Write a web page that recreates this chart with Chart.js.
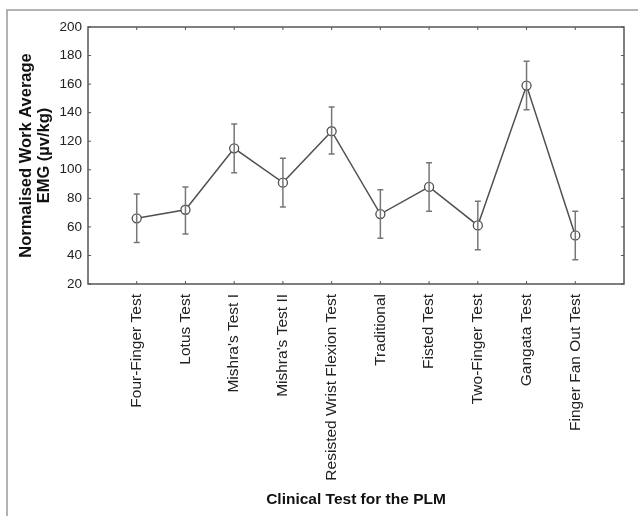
<!DOCTYPE html>
<html>
<head>
<title>Normalised Work Average EMG</title>
<script src="https://cdn.jsdelivr.net/npm/chart.js@4/dist/chart.umd.min.js"></script>
<style>
html, body { margin: 0; padding: 0; background: #fff; }
#wrap { width: 638px; height: 516px; }
</style>
</head>
<body>
<div id="wrap"><canvas id="c" width="638" height="516"></canvas></div>
<script>
var tests = ["Four-Finger Test", "Lotus Test", "Mishra's Test I", "Mishra's Test II",
  "Resisted Wrist Flexion Test", "Traditional", "Fisted Test", "Two-Finger Test",
  "Gangata Test", "Finger Fan Out Test"];
var meanEmg = [66, 72, 115, 91, 127, 69, 88, 61, 159, 54];
var upperEmg = [83, 88, 132, 108, 144, 86, 105, 78, 176, 71];
var lowerEmg = [49, 55, 98, 74, 111, 52, 71, 44, 142, 37];
var yTicks = [20, 40, 60, 80, 100, 120, 140, 160, 180, 200];

var points = meanEmg.map(function (v, i) { return { x: i + 1, y: v }; });

// frame, inward ticks and error bars
var extras = {
  id: 'extras',
  beforeDraw: function (chart) {
    var ctx = chart.ctx;
    ctx.save();
    ctx.strokeStyle = '#9a9a9a';
    ctx.lineWidth = 1.5;
    ctx.beginPath();
    ctx.moveTo(7, 516);
    ctx.lineTo(7, 10);
    ctx.lineTo(638, 10);
    ctx.stroke();
    ctx.restore();
  },
  afterDatasetsDraw: function (chart) {
    var ctx = chart.ctx;
    var xs = chart.scales.x, ys = chart.scales.y;
    ctx.save();
    ctx.strokeStyle = '#777';
    ctx.lineWidth = 1.5;
    for (var i = 0; i < meanEmg.length; i++) {
      var px = xs.getPixelForValue(i + 1);
      var top = ys.getPixelForValue(upperEmg[i]);
      var bot = ys.getPixelForValue(lowerEmg[i]);
      ctx.beginPath();
      ctx.moveTo(px, top); ctx.lineTo(px, bot);
      ctx.moveTo(px - 3, top); ctx.lineTo(px + 3, top);
      ctx.moveTo(px - 3, bot); ctx.lineTo(px + 3, bot);
      ctx.stroke();
    }
    ctx.restore();
  },
  afterDraw: function (chart) {
    var ctx = chart.ctx, a = chart.chartArea;
    var xs = chart.scales.x, ys = chart.scales.y;
    ctx.save();
    ctx.strokeStyle = '#555';
    ctx.lineWidth = 1.5;
    ctx.strokeRect(a.left, a.top, a.right - a.left, a.bottom - a.top);
    ctx.lineWidth = 1;
    ctx.beginPath();
    yTicks.forEach(function (t) {
      var py = ys.getPixelForValue(t);
      ctx.moveTo(a.left, py); ctx.lineTo(a.left + 3, py);
      ctx.moveTo(a.right, py); ctx.lineTo(a.right - 3, py);
    });
    tests.forEach(function (_, i) {
      var px = xs.getPixelForValue(i + 1);
      ctx.moveTo(px, a.top); ctx.lineTo(px, a.top + 3);
      ctx.moveTo(px, a.bottom); ctx.lineTo(px, a.bottom - 3);
    });
    ctx.stroke();
    ctx.restore();
  }
};

new Chart(document.getElementById('c'), {
  type: 'line',
  data: {
    datasets: [{
      data: points,
      borderColor: '#505050',
      borderWidth: 1.5,
      pointRadius: 4.5,
      pointBackgroundColor: '#fff',
      pointBorderColor: '#505050',
      pointBorderWidth: 1.3,
      tension: 0
    }]
  },
  options: {
    responsive: false,
    animation: false,
    layout: { padding: { top: 27, right: 14, left: 0, bottom: 0 } },
    plugins: { legend: { display: false }, tooltip: { enabled: false } },
    scales: {
      x: {
        type: 'linear',
        min: 0,
        max: 11,
        afterBuildTicks: function (s) {
          s.ticks = tests.map(function (_, i) { return { value: i + 1 }; });
        },
        afterFit: function (s) { s.height = 232; },
        grid: { display: false, drawTicks: false },
        border: { display: false },
        ticks: {
          autoSkip: false,
          minRotation: 90,
          maxRotation: 90,
          padding: 10,
          color: '#222',
          font: { family: 'Liberation Sans, Arial, sans-serif', size: 15.5 },
          callback: function (v) { return tests[v - 1] || ''; }
        },
        title: {
          display: true,
          text: 'Clinical Test for the PLM',
          color: '#111',
          font: { family: 'Liberation Sans, Arial, sans-serif', size: 15.5, weight: 'bold' },
          padding: { top: 4, bottom: 7 }
        }
      },
      y: {
        min: 20,
        max: 200,
        afterBuildTicks: function (s) {
          s.ticks = yTicks.map(function (t) { return { value: t }; });
        },
        afterFit: function (s) { s.width = 88; },
        grid: { display: false, drawTicks: false },
        border: { display: false },
        ticks: {
          padding: 6,
          color: '#222',
          font: { family: 'Liberation Sans, Arial, sans-serif', size: 13.5 }
        },
        title: {
          display: true,
          text: ['Normalised Work Average', 'EMG (\u00b5v/kg)'],
          color: '#111',
          font: { family: 'Liberation Sans, Arial, sans-serif', size: 16.5, weight: 'bold', lineHeight: 1.05 },
          padding: { top: 18, bottom: 0 }
        }
      }
    }
  },
  plugins: [extras]
});
</script>
</body>
</html>
